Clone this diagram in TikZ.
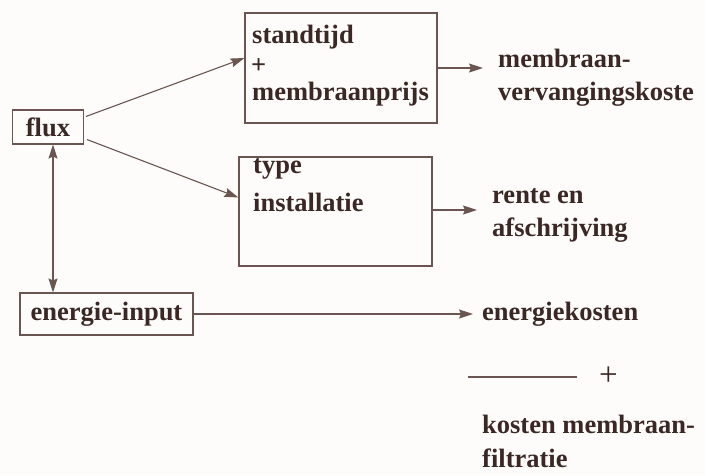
\documentclass[tikz,border=0pt]{standalone}
\usepackage{fontspec}
\setmainfont{Liberation Serif}
\usetikzlibrary{arrows.meta,calc}
\definecolor{ink}{HTML}{3B2824}
\definecolor{rulecol}{HTML}{6A5550}
\definecolor{paper}{HTML}{FDFCFA}
\begin{document}
\begin{tikzpicture}[x=1pt,y=-1pt,
  txt/.style={font=\fontsize{26.5}{30}\selectfont\bfseries, text=ink},
  lbl/.style={txt, inner sep=0pt, anchor=base west},
  frame/.style={draw=rulecol, line width=1.1pt, inner sep=0pt},
  conn/.style={draw=rulecol, line width=1.1pt, -{Stealth[length=14pt,width=9pt,inset=2pt]}},
  dconn/.style={draw=rulecol, line width=1.1pt, {Stealth[length=14pt,width=9pt,inset=2pt]}-{Stealth[length=14pt,width=9pt,inset=2pt]}},
]
\fill[paper] (0,0) rectangle (705,475);
\useasboundingbox (0,0) rectangle (705,475);

% left column
\node[frame, txt, minimum width=71pt, minimum height=34pt] (flux) at (48,127) {flux};
\node[frame, txt, minimum width=173pt, minimum height=42pt] (energie) at (106.5,314) {energie-input};

% middle boxes
\node[frame, minimum width=192pt, minimum height=110pt] (box1) at (341,68) {};
\node[frame, minimum width=193pt, minimum height=109pt] (box2) at (335.5,211.5) {};

\node[lbl] (b1a) at (252,43) {standtijd};
\node[txt, inner sep=0pt, anchor=west] (b1b) at (251,66) {+};
\node[lbl] (b1c) at (252,100) {membraanprijs};

\node[lbl] (b2a) at (253,173) {type};
\node[lbl] (b2b) at (253,211) {installatie};

% results
\node[lbl] (mv1) at (498,67) {membraan-};
\node[lbl] (mv2) at (498,100) {vervangingskoste};
\node[lbl] (re1) at (492,203) {rente en};
\node[lbl] (re2) at (492,236) {afschrijving};
\node[lbl] (ek) at (482,320) {energiekosten};
\node[lbl] (km1) at (482,433) {kosten membraan-};
\node[lbl] (km2) at (482,467) {filtratie};

% sum line
\coordinate (sumL) at (468,377);
\coordinate (sumR) at (577,377);
\draw[rulecol, line width=1.1pt] (sumL) -- (sumR);
\node[text=ink, font=\fontsize{33}{36}\selectfont, inner sep=0pt] (plus) at (608.5,376) {+};

% connectors
\coordinate (fx) at (53,0);
\draw[dconn] (flux.south -| fx) -- (energie.north -| fx);
\draw[conn] ($(flux.north east)+(2,7)$) -- ($(box1.west)+(0,-10)$);
\draw[conn] ($(flux.south east)+(3,-5)$) -- ($(box2.west)+(0,-14)$);
\draw[conn] (box1.east) -- ($(mv1.base west)+(-15,1)$);
\draw[conn] ($(box2.east)+(0,-1.5)$) -- ($(re1.base west)+(-15,7)$);
\draw[conn] (energie.east) -- ($(ek.base west)+(-9,-6)$);
\end{tikzpicture}
\end{document}
